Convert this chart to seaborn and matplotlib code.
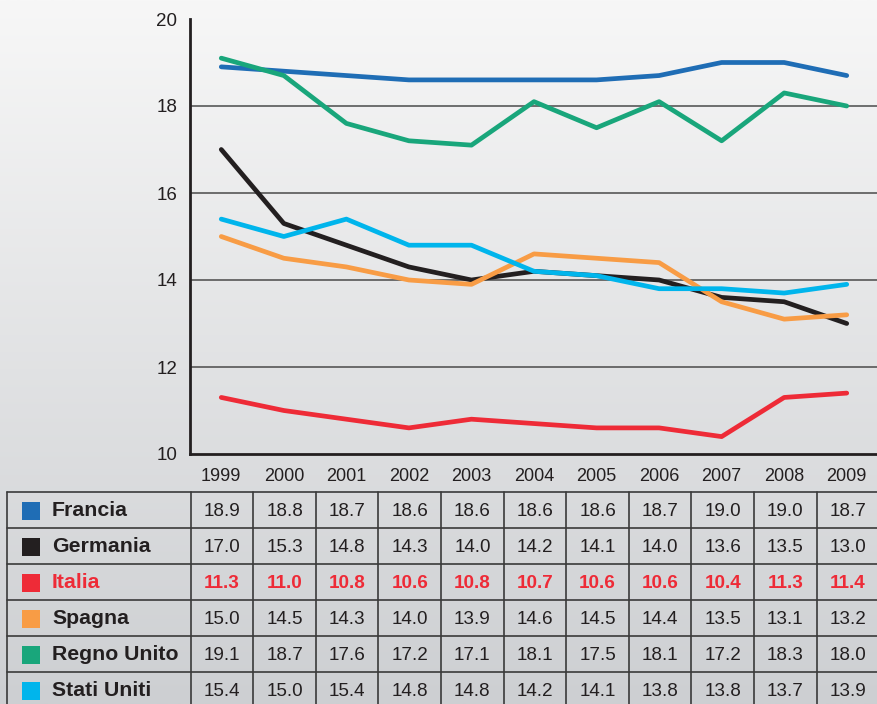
import numpy as np
import pandas as pd
import matplotlib.pyplot as plt
import seaborn as sns

# Dati
anni = ['1999', '2000', '2001', '2002', '2003', '2004', '2005', '2006', '2007', '2008', '2009']
paesi = ['Francia', 'Germania', 'Italia', 'Spagna', 'Regno Unito', 'Stati Uniti']
francia = [18.9, 18.8, 18.7, 18.6, 18.6, 18.6, 18.6, 18.7, 19.0, 19.0, 18.7]
germania = [17.0, 15.3, 14.8, 14.3, 14.0, 14.2, 14.1, 14.0, 13.6, 13.5, 13.0]
italia = [11.3, 11.0, 10.8, 10.6, 10.8, 10.7, 10.6, 10.6, 10.4, 11.3, 11.4]
spagna = [15.0, 14.5, 14.3, 14.0, 13.9, 14.6, 14.5, 14.4, 13.5, 13.1, 13.2]
regno_unito = [19.1, 18.7, 17.6, 17.2, 17.1, 18.1, 17.5, 18.1, 17.2, 18.3, 18.0]
stati_uniti = [15.4, 15.0, 15.4, 14.8, 14.8, 14.2, 14.1, 13.8, 13.8, 13.7, 13.9]
colori = ['#1f6db5', '#231f20', '#ee2b37', '#f89c45', '#19a67b', '#00b5ec']

serie = [francia, germania, italia, spagna, regno_unito, stati_uniti]
palette = dict(zip(paesi, colori))

righe = []
for paese, valori in zip(paesi, serie):
    for i, v in enumerate(valori):
        righe.append({'pos': i, 'valore': v, 'paese': paese})
df = pd.DataFrame(righe)

sns.set_style('white')
plt.rcParams['font.family'] = ['Liberation Sans', 'DejaVu Sans']

W, H = 878, 704
fig = plt.figure(figsize=(W / 100, H / 100), dpi=100)

# Sfondo sfumato
bg = fig.add_axes([0, 0, 1, 1], zorder=-10)
grad = np.linspace(0, 1, 256).reshape(-1, 1)
top = np.array([247, 247, 247]) / 255
bot = np.array([205, 207, 210]) / 255
img = top + (bot - top) * grad[..., None]
bg.imshow(img, aspect='auto', extent=[0, 1, 0, 1], origin='upper')
bg.set_axis_off()

# Grafico a linee
x0, x1 = 190 / W, 1.0
y_top, y_bot = 19, 454
ax = fig.add_axes([x0, 1 - y_bot / H, x1 - x0, (y_bot - y_top) / H])
ax.patch.set_alpha(0)
for yv in [12, 14, 16, 18]:
    ax.axhline(yv, color='#4a4a4a', lw=1.1, zorder=1)
sns.lineplot(data=df, x='pos', y='valore', hue='paese', palette=palette,
             hue_order=paesi, lw=3.4, legend=False, ax=ax, zorder=3)
ax.set_xlim(-0.5, 10.5)
ax.set_ylim(10, 20)
ax.set_xlabel('')
ax.set_ylabel('')
ax.set_yticks(range(10, 21, 2))
ax.set_xticks(range(len(anni)))
ax.set_xticklabels(anni, fontsize=13, color='#231f20')
ax.set_xticks(np.arange(0.5, 10, 1), minor=True)
ax.tick_params(axis='x', which='major', length=0, pad=10)
ax.tick_params(axis='x', which='minor', length=6, width=2, direction='out', color='#231f20')
ax.tick_params(axis='y', length=7, width=1.1, direction='out', color='#4a4a4a',
               labelsize=13.5, labelcolor='#231f20', pad=2)
for s in ['top', 'right']:
    ax.spines[s].set_visible(False)
for s in ['left', 'bottom']:
    ax.spines[s].set_color('#231f20')
    ax.spines[s].set_linewidth(2)

# Tabella
tb = fig.add_axes([0, 0, 1, 1], zorder=5)
tb.set_xlim(0, W)
tb.set_ylim(H, 0)
tb.set_axis_off()
tb.patch.set_alpha(0)

left = 7
lab_r = 190.7
col_w = 62.6
t_top = 492
row_h = 36
n_rows = len(paesi)
lc = '#3a3a3a'
for r in range(n_rows + 1):
    tb.plot([left, W], [t_top + r * row_h] * 2, color=lc, lw=1.2)
for xv in [left, lab_r] + [lab_r + k * col_w for k in range(1, 11)]:
    tb.plot([xv, xv], [t_top, H + 5], color=lc, lw=1.2)

for r, (paese, valori, col) in enumerate(zip(paesi, serie, colori)):
    yc = t_top + (r + 0.5) * row_h
    tb.scatter([31], [yc + 0.5], marker='s', s=150, color=col, zorder=6, linewidths=0)
    italia_row = paese == 'Italia'
    tcol = '#ee2b37' if italia_row else '#231f20'
    tb.text(52, yc + 1, paese, fontsize=15.3, fontweight='bold', color=tcol,
            va='center', ha='left')
    for k, v in enumerate(valori):
        tb.text(lab_r + (k + 0.5) * col_w, yc + 1, f'{v:.1f}', fontsize=13.6,
                fontweight='bold' if italia_row else 'normal', color=tcol,
                va='center', ha='center')

fig.savefig('out.png', dpi=100)
